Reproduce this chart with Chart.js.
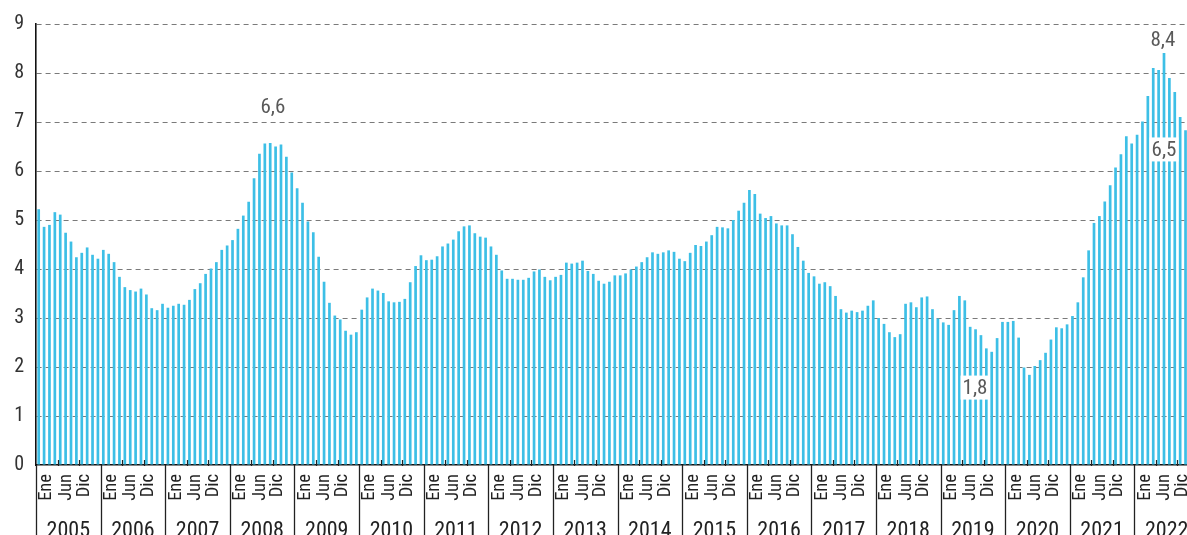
<!DOCTYPE html>
<html>
<head>
<meta charset="utf-8">
<script src="https://cdn.jsdelivr.net/npm/chart.js@4"></script>
<style>
  html, body { margin: 0; padding: 0; background: #fff; overflow: hidden; }
  #wrap { width: 1200px; height: 535px; }
</style>
</head>
<body>
<div id="wrap"><canvas id="c" width="1200" height="535"></canvas></div>
<script>
// ---- Data ----
const years = ['2005','2006','2007','2008','2009','2010','2011','2012','2013','2014','2015','2016','2017','2018','2019','2020','2021','2022'];
const monthNames = ['Ene','Feb','Mar','Abr','May','Jun','Jul','Ago','Sep','Oct','Nov','Dic'];
const shownMonthLabels = ['Ene','Jun','Dic'];
const yTicks = [0,1,2,3,4,5,6,7,8,9];

const v2005 = [5.22,4.86,4.90,5.16,5.11,4.74,4.56,4.24,4.33,4.44,4.29,4.21];
const v2006 = [4.39,4.31,4.14,3.84,3.63,3.57,3.54,3.60,3.48,3.20,3.16,3.29];
const v2007 = [3.21,3.25,3.29,3.27,3.37,3.59,3.71,3.90,4.01,4.14,4.39,4.48];
const v2008 = [4.59,4.82,5.09,5.37,5.85,6.35,6.56,6.57,6.50,6.54,6.29,5.97];
const v2009 = [5.65,5.35,4.97,4.75,4.25,3.74,3.31,3.05,2.97,2.74,2.66,2.71];
const v2010 = [3.17,3.42,3.60,3.56,3.51,3.34,3.32,3.33,3.39,3.73,4.06,4.28];
const v2011 = [4.18,4.19,4.26,4.46,4.52,4.60,4.77,4.87,4.89,4.73,4.66,4.64];
const v2012 = [4.46,4.29,3.97,3.80,3.80,3.78,3.78,3.82,3.95,3.99,3.84,3.77];
const v2013 = [3.84,3.88,4.13,4.11,4.13,4.17,3.96,3.90,3.76,3.70,3.74,3.87];
const v2014 = [3.87,3.91,3.99,4.05,4.14,4.24,4.34,4.31,4.34,4.38,4.35,4.21];
const v2015 = [4.16,4.33,4.49,4.47,4.56,4.69,4.86,4.85,4.83,5.00,5.19,5.35];
const v2016 = [5.61,5.53,5.13,5.04,5.08,4.93,4.89,4.89,4.71,4.45,4.17,3.92];
const v2017 = [3.85,3.70,3.73,3.65,3.45,3.18,3.11,3.15,3.12,3.15,3.25,3.36];
const v2018 = [3.00,2.88,2.71,2.61,2.67,3.29,3.32,3.22,3.42,3.44,3.18,2.99];
const v2019 = [2.91,2.86,3.16,3.45,3.36,2.82,2.77,2.65,2.38,2.31,2.59,2.92];
const v2020 = [2.92,2.94,2.60,1.99,1.84,2.02,2.14,2.29,2.56,2.81,2.79,2.87];
const v2021 = [3.04,3.32,3.83,4.38,4.94,5.08,5.38,5.71,6.07,6.34,6.71,6.56];
const v2022 = [6.74,7.01,7.53,8.10,8.06,8.41,7.90,7.61,7.10,6.83,null,null];

const annotTexts = ['6,6','8,4','6,5','1,8'];

// ---- Build ----
const yearValues = [v2005,v2006,v2007,v2008,v2009,v2010,v2011,v2012,v2013,v2014,v2015,v2016,v2017,v2018,v2019,v2020,v2021,v2022];
const labels = [];
const values = [];
years.forEach((y, yi) => {
  monthNames.forEach((m, mi) => {
    labels.push(m + ' ' + y);
    values.push(yearValues[yi][mi]);
  });
});

const FONT = "'Roboto Condensed', Roboto, 'Liberation Sans', sans-serif";

// positions of annotations: [fractional category index, y value, withBackground]
const annotPos = [[43.5, 7.31, false], [208.8, 8.68, false], [209.0, 6.44, true], [173.9, 1.58, true]];
// month label offsets within a year (in months)
const monthLabelOffsets = [2.0, 5.6, 8.9];

const axisPlugin = {
  id: 'axisDecor',
  afterDraw(chart) {
    const ctx = chart.ctx;
    const xs = chart.scales.x, ys = chart.scales.y;
    const mw = xs.getPixelForValue(1) - xs.getPixelForValue(0);
    const x0 = xs.getPixelForValue(0) - mw / 2;
    const yb = ys.getPixelForValue(0);
    ctx.save();
    // year separators
    ctx.strokeStyle = '#222';
    ctx.lineWidth = 1.3;
    for (let k = 0; k <= years.length; k++) {
      const px = Math.round(x0 + k * 12 * mw) + 0.5;
      ctx.beginPath(); ctx.moveTo(px, yb); ctx.lineTo(px, chart.height); ctx.stroke();
    }
    // small ticks every 4 months
    ctx.lineWidth = 1.2;
    for (let k = 0; k < years.length; k++) {
      [4, 8].forEach(m => {
        const px = Math.round(x0 + (k * 12 + m) * mw) + 0.5;
        ctx.beginPath(); ctx.moveTo(px, yb - 5); ctx.lineTo(px, yb + 1); ctx.stroke();
      });
    }
    // month labels (rotated)
    ctx.fillStyle = '#222';
    ctx.font = '18.5px ' + FONT;
    ctx.textAlign = 'right';
    ctx.textBaseline = 'middle';
    for (let k = 0; k < years.length; k++) {
      shownMonthLabels.forEach((t, i) => {
        const px = x0 + (k * 12 + monthLabelOffsets[i]) * mw;
        ctx.save();
        ctx.translate(px, yb + 9);
        ctx.rotate(-Math.PI / 2);
        ctx.fillText(t, 0, 0);
        ctx.restore();
      });
    }
    // year labels
    ctx.font = '22px ' + FONT;
    ctx.textAlign = 'center';
    ctx.textBaseline = 'alphabetic';
    years.forEach((y, k) => {
      const px = x0 + (k * 12 + 6) * mw;
      ctx.fillText(y, px, yb + 72);
    });
    // annotations
    ctx.font = '21px ' + FONT;
    ctx.textAlign = 'center';
    ctx.textBaseline = 'middle';
    annotTexts.forEach((t, i) => {
      const [fi, val, bg] = annotPos[i];
      const px = x0 + (fi + 0.5) * mw;
      const py = ys.getPixelForValue(val);
      if (bg) {
        const w = ctx.measureText(t).width + 4;
        ctx.fillStyle = '#fff';
        ctx.fillRect(px - w / 2, py - 12, w, 24);
      }
      ctx.fillStyle = '#595959';
      ctx.fillText(t, px, py + 1);
    });
    ctx.restore();
  }
};

new Chart(document.getElementById('c'), {
  type: 'bar',
  data: {
    labels: labels,
    datasets: [{
      data: values,
      backgroundColor: '#3dbfe6',
      borderWidth: 0,
      barPercentage: 0.5,
      categoryPercentage: 1.0
    }]
  },
  options: {
    responsive: false,
    animation: false,
    events: [],
    layout: { padding: { top: 22, right: 1, left: 0, bottom: 0 } },
    plugins: { legend: { display: false }, tooltip: { enabled: false } },
    scales: {
      x: {
        type: 'category',
        offset: true,
        grid: { display: false, drawTicks: false },
        ticks: { display: false },
        border: { display: true, color: '#111', width: 1.6 },
        afterFit(scale) { scale.height = 70; }
      },
      y: {
        min: 0, max: 9,
        afterBuildTicks(scale) { scale.ticks = yTicks.map(v => ({ value: v })); },
        ticks: {
          color: '#333',
          font: { family: FONT, size: 20 },
          padding: 12,
          callback: v => String(v)
        },
        grid: {
          drawTicks: false,
          color: ctx => (ctx.tick && ctx.tick.value === 0) ? 'rgba(0,0,0,0)' : '#7a7a7a',
          lineWidth: 1
        },
        border: { display: true, color: '#111', width: 1.6, dash: [5, 4] },
        afterFit(scale) { scale.width = 36; }
      }
    }
  },
  plugins: [axisPlugin]
});
</script>
</body>
</html>
